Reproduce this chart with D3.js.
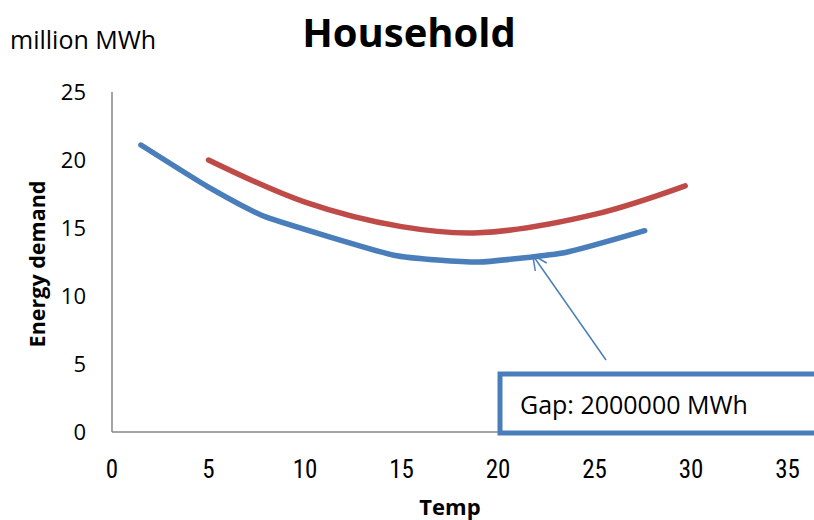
<!DOCTYPE html>
<html>
<head>
<meta charset="utf-8">
<script src="https://cdn.jsdelivr.net/npm/d3@7.9.0/dist/d3.min.js"></script>
<style>
  body { margin: 0; background: #fff; }
  svg { display: block; }
</style>
</head>
<body>
<svg id="chart" width="814" height="520"></svg>
<script>
// data
const blueTemp = [1.5, 5, 8, 14.6, 19, 23.5, 27.6];
const blueDemand = [21.1, 18, 15.8, 13.0, 12.5, 13.2, 14.8];
const redTemp = [5, 10, 15, 19, 25, 29.7];
const redDemand = [20, 16.9, 15.1, 14.65, 16.0, 18.1];
const xTicks = [0, 5, 10, 15, 20, 25, 30, 35];
const yTicks = [0, 5, 10, 15, 20, 25];

const svg = d3.select('#chart');

// scales
const x = d3.scaleLinear().domain([0, 40]).range([112, 884]);
const y = d3.scaleLinear().domain([0, 25]).range([432, 92]);

// axes (no tick marks, just the lines + labels)
const axisColor = '#868686';
svg.append('line')
  .attr('x1', x(0)).attr('x2', 814)
  .attr('y1', y(0)).attr('y2', y(0))
  .attr('stroke', axisColor).attr('stroke-width', 1.5);
svg.append('line')
  .attr('x1', x(0)).attr('x2', x(0))
  .attr('y1', y(0)).attr('y2', y(25))
  .attr('stroke', axisColor).attr('stroke-width', 1.5);

svg.selectAll('.ylab')
  .data(yTicks)
  .join('text')
  .attr('class', 'ylab')
  .attr('x', 86)
  .attr('y', d => y(d) + 8)
  .attr('text-anchor', 'end')
  .attr('font-family', 'Open Sans, sans-serif')
  .attr('font-size', 22)
  .text(d => d);

svg.selectAll('.xlab')
  .data(xTicks)
  .join('text')
  .attr('class', 'xlab')
  .attr('x', d => x(d))
  .attr('y', 478)
  .attr('text-anchor', 'middle')
  .attr('font-family', 'Liberation Sans Narrow, Roboto Condensed, sans-serif')
  .attr('font-size', 25)
  .text(d => d);

// series
const redLine = d3.line()
  .x(d => x(d[0]))
  .y(d => y(d[1]))
  .curve(d3.curveCatmullRom.alpha(0.5));

// blue one has visible corners, so less smoothing
const blueLine = d3.line()
  .x(d => x(d[0]))
  .y(d => y(d[1]))
  .curve(d3.curveCardinal.tension(0.55));

svg.append('path')
  .datum(d3.zip(redTemp, redDemand))
  .attr('d', redLine)
  .attr('fill', 'none')
  .attr('stroke', '#be4b48')
  .attr('stroke-width', 5.5)
  .attr('stroke-linecap', 'round');

svg.append('path')
  .datum(d3.zip(blueTemp, blueDemand))
  .attr('d', blueLine)
  .attr('fill', 'none')
  .attr('stroke', '#4a7ebb')
  .attr('stroke-width', 5.5)
  .attr('stroke-linecap', 'round');

// annotation arrow
const tipX = x(21.8), tipY = y(13.0);
const tailX = 606, tailY = 360;
svg.append('line')
  .attr('x1', tailX).attr('y1', tailY)
  .attr('x2', tipX).attr('y2', tipY)
  .attr('stroke', '#4a7ebb').attr('stroke-width', 1.5);
const ang = Math.atan2(tailY - tipY, tailX - tipX);
[0.45, -0.45].forEach(a => {
  svg.append('line')
    .attr('x1', tipX).attr('y1', tipY)
    .attr('x2', tipX + 16 * Math.cos(ang + a))
    .attr('y2', tipY + 16 * Math.sin(ang + a))
    .attr('stroke', '#4a7ebb').attr('stroke-width', 1.5);
});

// callout box
svg.append('rect')
  .attr('x', 500).attr('y', 374)
  .attr('width', 340).attr('height', 59)
  .attr('fill', '#fff')
  .attr('stroke', '#4a7ebb')
  .attr('stroke-width', 5);
svg.append('text')
  .attr('x', 520).attr('y', 414)
  .attr('font-family', 'Open Sans, sans-serif')
  .attr('font-size', 25)
  .text('Gap: 2000000 MWh');

// titles
svg.append('text')
  .attr('x', 409).attr('y', 47)
  .attr('text-anchor', 'middle')
  .attr('font-family', 'Open Sans, sans-serif')
  .attr('font-weight', 'bold')
  .attr('font-size', 40)
  .text('Household');

svg.append('text')
  .attr('x', 10).attr('y', 49)
  .attr('font-family', 'Open Sans, sans-serif')
  .attr('font-size', 25)
  .text('million MWh');

svg.append('text')
  .attr('x', 450).attr('y', 515)
  .attr('text-anchor', 'middle')
  .attr('font-family', 'Open Sans, sans-serif')
  .attr('font-weight', 'bold')
  .attr('font-size', 22)
  .text('Temp');

svg.append('text')
  .attr('transform', 'translate(45,264) rotate(-90)')
  .attr('text-anchor', 'middle')
  .attr('font-family', 'Open Sans, sans-serif')
  .attr('font-weight', 'bold')
  .attr('font-size', 21.5)
  .text('Energy demand');
</script>
</body>
</html>
